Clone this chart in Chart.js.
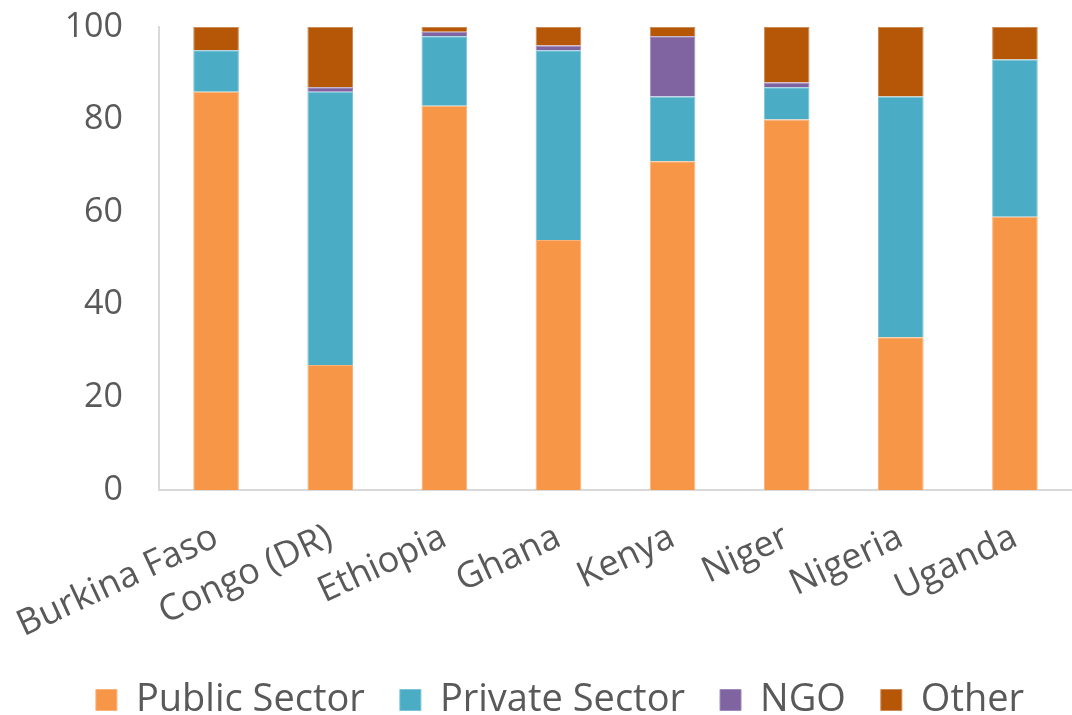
<!DOCTYPE html>
<html>
<head>
<meta charset="utf-8">
<script src="https://cdn.jsdelivr.net/npm/chart.js@4"></script>
<style>
  html, body { margin: 0; padding: 0; background: #fff; }
  #wrap { width: 1072px; height: 715px; }
</style>
</head>
<body>
<div id="wrap"><canvas id="myBarChart" width="1072" height="715"></canvas></div>
<script>
const countries = ['Burkina Faso', 'Congo (DR)', 'Ethiopia', 'Ghana', 'Kenya', 'Niger', 'Nigeria', 'Uganda'];
const publicSector = [86, 27, 83, 54, 71, 80, 33, 59];
const privateSector = [9, 59, 15, 41, 14, 7, 52, 34];
const ngo = [0, 1, 1, 1, 13, 1, 0, 0];
const other = [5, 13, 1, 4, 2, 12, 15, 7];
const yTicks = [0, 20, 40, 60, 80, 100];

const textColor = '#595959';
const fontFamily = '"Open Sans", "Noto Sans", sans-serif';

function series(label, values, color, edge) {
  return {
    label: label,
    data: values,
    backgroundColor: color,
    borderColor: edge,
    borderWidth: 1,
    barPercentage: 0.4,
    categoryPercentage: 1
  };
}

// labels are allowed to hang outside the plot, like the original
function noPadding(axis) {
  axis.paddingLeft = 0;
  axis.paddingRight = 0;
  axis.paddingTop = 0;
  axis.paddingBottom = 0;
}

const data = {
  labels: countries,
  datasets: [
    series('Public Sector', publicSector, '#F79646', '#F9B27A'),
    series('Private Sector', privateSector, '#4BACC6', '#7CC3D6'),
    series('NGO', ngo, '#8064A2', '#A08ABB'),
    series('Other', other, '#B65708', '#CC8A55')
  ]
};

const config = {
  type: 'bar',
  data: data,
  options: {
    responsive: false,
    animation: false,
    layout: {
      autoPadding: false,
      padding: { top: 27, right: -8, left: 40, bottom: -14 }
    },
    plugins: {
      tooltip: { enabled: false },
      legend: {
        position: 'bottom',
        labels: {
          color: textColor,
          font: { family: fontFamily, size: 38 },
          boxWidth: 21,
          boxHeight: 21,
          padding: 35
        }
      }
    },
    scales: {
      x: {
        stacked: true,
        grid: { display: false, drawTicks: false },
        border: { color: '#d9d9d9', width: 2 },
        ticks: {
          color: textColor,
          font: { family: fontFamily, size: 36 },
          minRotation: 25,
          maxRotation: 25,
          padding: 26,
          autoSkip: false
        },
        afterFit: (axis) => { axis.height = 156; noPadding(axis); }
      },
      y: {
        stacked: true,
        min: 0,
        max: 100,
        grid: { display: false, drawTicks: false },
        border: { color: '#d9d9d9', width: 2 },
        afterBuildTicks: (axis) => { axis.ticks = yTicks.map(v => ({ value: v })); },
        afterFit: (axis) => { axis.width = 119; noPadding(axis); },
        ticks: {
          color: textColor,
          font: { family: fontFamily, size: 34 },
          padding: 36
        }
      }
    }
  }
};

new Chart(document.getElementById('myBarChart'), config);
</script>
</body>
</html>
